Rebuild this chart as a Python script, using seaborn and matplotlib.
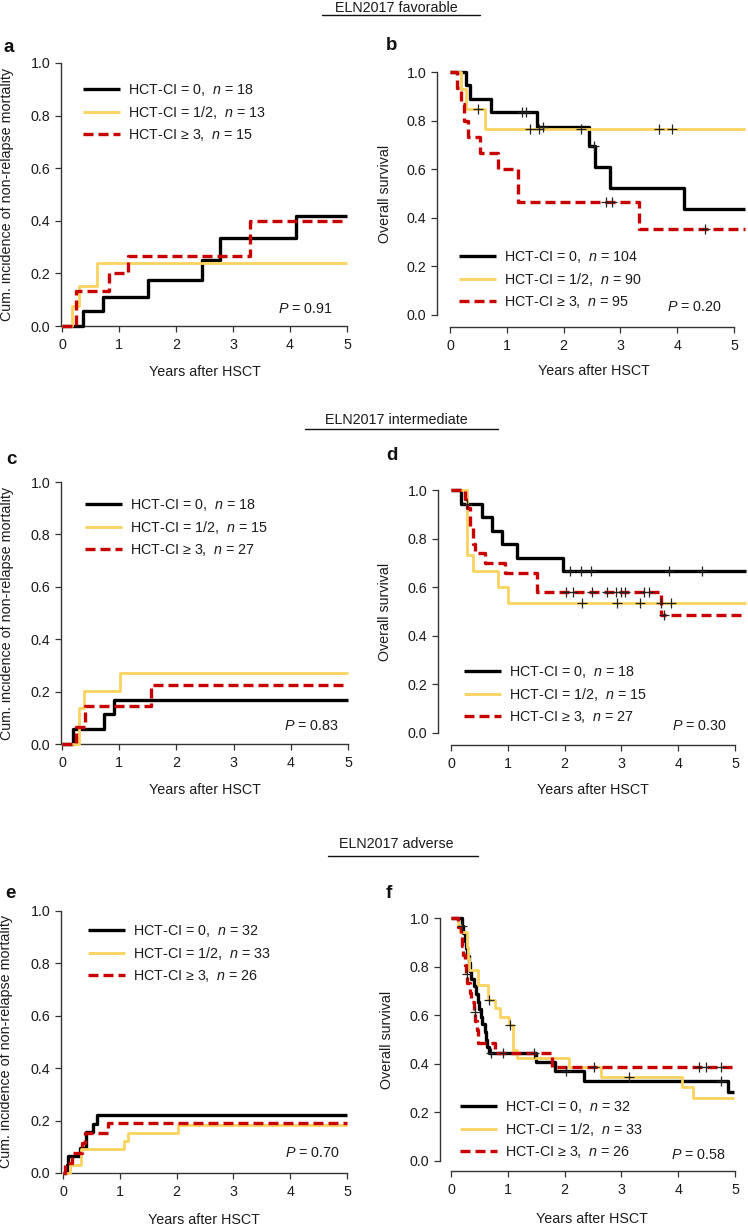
import numpy as np
import matplotlib
matplotlib.use("Agg")
import matplotlib.pyplot as plt
import matplotlib.transforms as mtransforms
from matplotlib.lines import Line2D
import seaborn as sns

sns.set_theme(style="ticks")
plt.rcParams["font.family"] = ["Liberation Sans", "DejaVu Sans"]
plt.rcParams["mathtext.fontset"] = "custom"
plt.rcParams["mathtext.rm"] = "Liberation Sans"
plt.rcParams["mathtext.it"] = "Liberation Sans:italic"
plt.rcParams["mathtext.bf"] = "Liberation Sans:bold"

# ---------------- data ----------------
groups = ["HCT-CI = 0", "HCT-CI = 1/2", "HCT-CI \u2265 3"]
colors = ["#000000", "#FCD35E", "#C80000"]
headers = ["ELN2017 favorable", "ELN2017 intermediate", "ELN2017 adverse"]
panel_letters = ["a", "b", "c", "d", "e", "f"]
x_ticks = [0, 1, 2, 3, 4, 5]
y_ticks = [0.0, 0.2, 0.4, 0.6, 0.8, 1.0]
nrm_ylabel = "Cum. incidence of non-relapse mortality"
os_ylabel = "Overall survival"
x_label = "Years after HSCT"

# panel a: NRM, favorable
a_n = [18, 13, 15]
a_p = "0.91"
a_t0 = [0.36, 0.72, 1.50, 2.45, 2.78, 4.10]
a_v0 = [0.056, 0.111, 0.176, 0.251, 0.333, 0.418]
a_t1 = [0.18, 0.30, 0.62]
a_v1 = [0.077, 0.153, 0.238]
a_t2 = [0.25, 0.82, 1.16, 3.30]
a_v2 = [0.133, 0.200, 0.266, 0.400]

# panel b: OS, favorable
b_n = [104, 90, 95]
b_p = "0.20"
b_t0 = [0.28, 0.36, 0.73, 1.53, 2.44, 2.56, 2.81, 4.12]
b_v0 = [0.947, 0.890, 0.837, 0.775, 0.697, 0.610, 0.521, 0.435]
b_c0 = [1.26, 1.33, 1.64, 2.54]
b_t1 = [0.19, 0.29, 0.62]
b_v1 = [0.930, 0.846, 0.764]
b_c1 = [0.50, 1.40, 1.57, 2.30, 3.68, 3.91]
b_t2 = [0.12, 0.20, 0.25, 0.32, 0.52, 0.85, 1.20, 3.33]
b_v2 = [0.933, 0.867, 0.800, 0.733, 0.667, 0.600, 0.467, 0.354]
b_c2 = [2.75, 2.86, 4.49]
b_end = [5.2, 5.2, 5.2]

# panel c: NRM, intermediate
c_n = [18, 15, 27]
c_p = "0.83"
c_t0 = [0.19, 0.74, 0.91]
c_v0 = [0.056, 0.113, 0.168]
c_t1 = [0.30, 0.39, 1.01]
c_v1 = [0.136, 0.203, 0.270]
c_t2 = [0.24, 0.40, 1.55]
c_v2 = [0.066, 0.146, 0.225]

# panel d: OS, intermediate
d_n = [18, 15, 27]
d_p = "0.30"
d_t0 = [0.18, 0.55, 0.73, 0.89, 1.17, 1.98]
d_v0 = [0.944, 0.889, 0.833, 0.778, 0.722, 0.667]
d_c0 = [0.28, 2.09, 2.28, 2.46, 3.84, 4.42]
d_t1 = [0.28, 0.38, 0.83, 1.01]
d_v1 = [0.733, 0.667, 0.600, 0.533]
d_c1 = [2.31, 2.93, 3.33, 3.70, 3.87]
d_t2 = [0.24, 0.28, 0.33, 0.38, 0.43, 0.60, 0.95, 1.51, 3.69]
d_v2 = [0.963, 0.926, 0.852, 0.778, 0.741, 0.698, 0.660, 0.581, 0.486]
d_c2 = [2.02, 2.14, 2.49, 2.75, 2.91, 2.99, 3.06, 3.39, 3.49, 3.75]
d_end = [5.2, 5.2, 5.2]

# panel e: NRM, adverse
e_n = [32, 33, 26]
e_p = "0.70"
e_t0 = [0.07, 0.09, 0.30, 0.40, 0.53, 0.60]
e_v0 = [0.031, 0.063, 0.094, 0.156, 0.188, 0.221]
e_t1 = [0.13, 0.31, 1.08, 1.14, 2.02]
e_v1 = [0.030, 0.091, 0.121, 0.152, 0.183]
e_t2 = [0.04, 0.15, 0.33, 0.38, 0.80]
e_v2 = [0.038, 0.077, 0.115, 0.154, 0.192]

# panel f: OS, adverse
f_n = [32, 33, 26]
f_p = "0.58"
f_t0 = [0.19, 0.22, 0.25, 0.27, 0.29, 0.31, 0.33, 0.36, 0.40, 0.44, 0.47,
        0.49, 0.52, 0.55, 0.59, 0.62, 0.64, 0.67, 1.50, 1.83, 2.34, 4.88]
f_v0 = [0.969, 0.938, 0.906, 0.875, 0.844, 0.813, 0.781, 0.750, 0.719, 0.688, 0.656,
        0.625, 0.594, 0.563, 0.531, 0.500, 0.469, 0.444, 0.409, 0.371, 0.330, 0.283]
f_c0 = [0.20, 0.71, 0.92, 1.47, 2.02, 4.75]
f_t1 = [0.13, 0.16, 0.28, 0.30, 0.32, 0.48, 0.66, 0.77, 0.86, 1.02, 1.09, 1.16,
        2.08, 2.64, 4.06, 4.26]
f_v1 = [0.970, 0.944, 0.882, 0.834, 0.786, 0.724, 0.663, 0.628, 0.594, 0.560, 0.457, 0.423,
        0.385, 0.347, 0.306, 0.260]
f_c1 = [0.67, 1.04, 2.52, 3.13]
f_t2 = [0.13, 0.17, 0.20, 0.22, 0.25, 0.27, 0.29, 0.33, 0.36, 0.40, 0.43, 0.46,
        0.48, 0.78, 1.78]
f_v2 = [0.962, 0.923, 0.885, 0.846, 0.808, 0.769, 0.731, 0.692, 0.654, 0.615, 0.577, 0.538,
        0.485, 0.443, 0.386]
f_c2 = [0.28, 0.42, 4.37, 4.49, 4.75]
f_end = [4.98, 4.98, 5.01]

# ---------------- figure ----------------
W, H = 748, 1227
fig = plt.figure(figsize=(W / 100, H / 100), dpi=100)
T = mtransforms.Affine2D().scale(1 / W, -1 / H).translate(0, 1) + fig.transFigure

LW = [2.4, 2.0, 2.4]
SPINE = "#333333"
FS = 10.3


def make_axes(x0, x5, ytop, ybot, xmax):
    x1 = x0 + xmax * (x5 - x0) / 5.0
    ax = fig.add_axes([x0 / W, 1 - ybot / H, (x1 - x0) / W, (ybot - ytop) / H])
    ax.set_xlim(0, xmax)
    ax.set_ylim(0, 1)
    return ax


def style_axes(ax, off_left, off_bottom):
    for s in ["top", "right"]:
        ax.spines[s].set_visible(False)
    for s in ["left", "bottom"]:
        ax.spines[s].set_color(SPINE)
        ax.spines[s].set_linewidth(1.0)
    ax.spines["left"].set_position(("outward", off_left * 0.72))
    ax.spines["bottom"].set_position(("outward", off_bottom * 0.72))
    ax.spines["left"].set_bounds(0, 1)
    ax.spines["bottom"].set_bounds(0, 5)
    ax.set_xticks(x_ticks)
    ax.set_xticklabels([str(v) for v in x_ticks])
    ax.set_yticks(y_ticks)
    ax.set_yticklabels(["%.1f" % v for v in y_ticks])
    ax.tick_params(axis="both", direction="out", length=4.5, width=0.9,
                   color=SPINE, labelsize=FS, labelcolor="#1a1a1a")
    ax.tick_params(axis="x", pad=4.3)
    ax.tick_params(axis="y", pad=3.3)
    ax.grid(False)


def draw_curve(ax, t, v, start, end, k, label):
    x = np.r_[0.0, t, end]
    y = np.r_[start, v, v[-1]]
    sns.lineplot(x=x, y=y, ax=ax, drawstyle="steps-post", color=colors[k],
                 lw=LW[k], estimator=None, sort=False, label=label,
                 clip_on=False, zorder=3 + k)
    ln = ax.lines[-1]
    if k == 2:
        ln.set_dashes([3.0, 1.5])
        ln.set_dash_capstyle("butt")
    ln.set_solid_capstyle("butt")


def draw_censor(ax, t, v, start, ct):
    vals = np.r_[start, v]
    idx = np.searchsorted(np.asarray(t), np.asarray(ct), side="right")
    cy = vals[idx]
    sns.scatterplot(x=ct, y=cy, ax=ax, marker="+", s=55, color="#222222",
                    linewidth=0.9, zorder=8, legend=False, clip_on=False)


def labels_for(ns):
    return ["%s,  $\\mathit{n}$ = %d" % (g, n) for g, n in zip(groups, ns)]


def finish(ax, ylabel, ylab_x, xlab_c, leg_xy, p, p_xy, letter, letter_xy, yc):
    ax.set_ylabel(ylabel, fontsize=FS, color="#1a1a1a")
    ax.yaxis.set_label_coords(ylab_x, yc, transform=T)
    ax.set_xlabel(x_label, fontsize=FS, color="#1a1a1a")
    ax.xaxis.set_label_coords(xlab_c[0], xlab_c[1] - 7.8, transform=T)
    leg = ax.legend(loc="upper left", bbox_to_anchor=(leg_xy[0], leg_xy[1] - 8.8),
                    bbox_transform=T, frameon=False, fontsize=FS, borderpad=0,
                    handlelength=2.6, handletextpad=0.55, labelspacing=0.40,
                    borderaxespad=0)
    for txt in leg.get_texts():
        txt.set_color("#1a1a1a")
    fig.text(p_xy[0], p_xy[1], "$\\mathit{P}$ = " + p, transform=T, ha="right",
             va="center", fontsize=FS, color="#1a1a1a")
    fig.text(letter_xy[0], letter_xy[1], letter, transform=T, ha="left",
             va="center", fontsize=13.5, fontweight="bold", color="#111111")


# ---- panel a
ax = make_axes(62, 347, 63, 326, 5.0)
style_axes(ax, 1, 0)
for k, (t, v) in enumerate([(a_t0, a_v0), (a_t1, a_v1), (a_t2, a_v2)]):
    draw_curve(ax, t, v, 0.0, 5.0, k, labels_for(a_n)[k])
finish(ax, nrm_ylabel, 14.5, (204.5, 373), (83, 91), a_p, (333, 309),
       panel_letters[0], (4, 47), 194.5)

# ---- panel b
ax = make_axes(450, 734, 72, 315, 5.2)
style_axes(ax, 13, 12)
for k, (t, v, c) in enumerate([(b_t0, b_v0, b_c0), (b_t1, b_v1, b_c1), (b_t2, b_v2, b_c2)]):
    draw_curve(ax, t, v, 1.0, b_end[k], k, labels_for(b_n)[k])
for k, (t, v, c) in enumerate([(b_t0, b_v0, b_c0), (b_t1, b_v1, b_c1), (b_t2, b_v2, b_c2)]):
    draw_censor(ax, t, v, 1.0, c)
finish(ax, os_ylabel, 392.5, (594, 372), (459, 258), b_p, (722, 307),
       panel_letters[1], (386, 45), 193.5)

# ---- panel c
ax = make_axes(62, 348, 482, 744, 5.0)
style_axes(ax, 1, 0)
for k, (t, v) in enumerate([(c_t0, c_v0), (c_t1, c_v1), (c_t2, c_v2)]):
    draw_curve(ax, t, v, 0.0, 5.0, k, labels_for(c_n)[k])
finish(ax, nrm_ylabel, 14.5, (205, 791), (85, 506), c_p, (339, 726),
       panel_letters[2], (6, 459), 613)

# ---- panel d
ax = make_axes(451, 735, 490, 733, 5.2)
style_axes(ax, 13, 12)
for k, (t, v, c) in enumerate([(d_t0, d_v0, d_c0), (d_t1, d_v1, d_c1), (d_t2, d_v2, d_c2)]):
    draw_curve(ax, t, v, 1.0, d_end[k], k, labels_for(d_n)[k])
for k, (t, v, c) in enumerate([(d_t0, d_v0, d_c0), (d_t1, d_v1, d_c1), (d_t2, d_v2, d_c2)]):
    draw_censor(ax, t, v, 1.0, c)
finish(ax, os_ylabel, 392.5, (593, 791), (464, 673), d_p, (727, 726),
       panel_letters[3], (386, 456), 611.5)

# ---- panel e
ax = make_axes(63, 347, 911, 1173, 5.0)
style_axes(ax, 2, 0)
for k, (t, v) in enumerate([(e_t0, e_v0), (e_t1, e_v1), (e_t2, e_v2)]):
    draw_curve(ax, t, v, 0.0, 5.0, k, labels_for(e_n)[k])
finish(ax, nrm_ylabel, 13.5, (204, 1221), (88, 932), e_p, (340, 1153),
       panel_letters[4], (5, 893), 1042)

# ---- panel f
ax = make_axes(451, 735, 918, 1161, 5.2)
style_axes(ax, 11, 10)
for k, (t, v, c) in enumerate([(f_t0, f_v0, f_c0), (f_t1, f_v1, f_c1), (f_t2, f_v2, f_c2)]):
    draw_curve(ax, t, v, 1.0, f_end[k], k, labels_for(f_n)[k])
for k, (t, v, c) in enumerate([(f_t0, f_v0, f_c0), (f_t1, f_v1, f_c1), (f_t2, f_v2, f_c2)]):
    draw_censor(ax, t, v, 1.0, c)
finish(ax, os_ylabel, 394, (592, 1220), (460, 1108), f_p, (726, 1155),
       panel_letters[5], (386, 893), 1039.5)

# ---- section headers
for txt, ty, ly, lx0, lx1 in [(headers[0], 7.5, 15, 322, 480),
                              (headers[1], 420, 429, 305, 498),
                              (headers[2], 844, 856, 328, 478)]:
    fig.text(396, ty, txt, transform=T, ha="center", va="center",
             fontsize=FS, color="#1a1a1a")
    fig.add_artist(Line2D([lx0, lx1], [ly, ly], transform=T, color="#111111", lw=1.0))

fig.savefig("out.png", dpi=100)
